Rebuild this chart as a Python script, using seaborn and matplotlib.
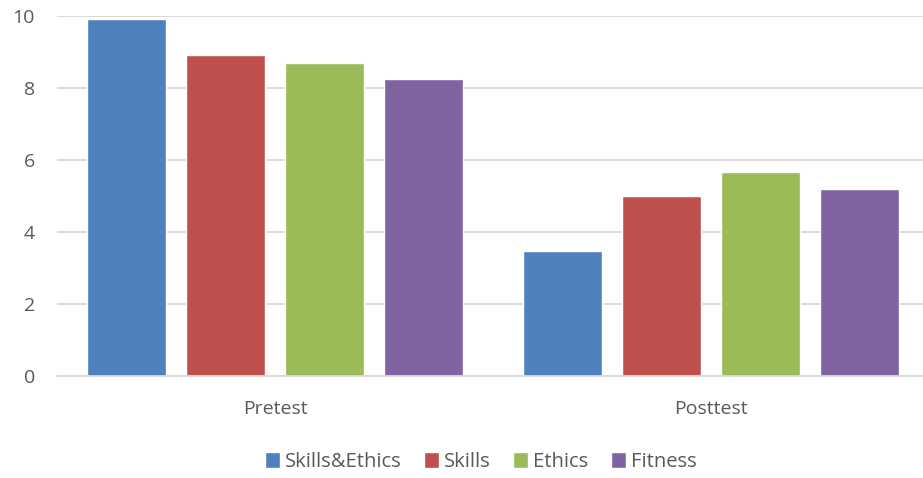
import pandas as pd
import matplotlib
matplotlib.use("Agg")
import matplotlib.pyplot as plt
import seaborn as sns

# --- data ---
tests = ["Pretest", "Posttest"]
groups = ["Skills&Ethics", "Skills", "Ethics", "Fitness"]
skills_ethics = [9.93, 3.46]
skills = [8.91, 5.00]
ethics = [8.69, 5.67]
fitness = [8.24, 5.20]
colors = ["#4F81BD", "#C0504D", "#9BBB59", "#8064A2"]

rows = []
for g, vals in zip(groups, [skills_ethics, skills, ethics, fitness]):
    for t, v in zip(tests, vals):
        rows.append({"test": t, "group": g, "score": v})
df = pd.DataFrame(rows)

sns.set_style("white")
plt.rcParams["font.family"] = ["Open Sans", "DejaVu Sans"]

fig = plt.figure(figsize=(9.23, 4.78), dpi=100)
ax = fig.add_axes([0.062, 0.2134, 0.938, 0.7531])

sns.barplot(data=df, x="test", y="score", hue="group", order=tests,
            hue_order=groups, palette=colors, width=0.908, gap=0.2,
            saturation=1, ax=ax, legend=True)

ax.set_ylim(0, 10)
ax.set_xlim(-0.5, 1.486)
ax.set_yticks(range(0, 11, 2))
ax.yaxis.grid(True, color="#d9d9d9", linewidth=1.3)
ax.set_axisbelow(True)
for s in ["top", "right", "left"]:
    ax.spines[s].set_visible(False)
ax.spines["bottom"].set_color("#d9d9d9")
ax.spines["bottom"].set_linewidth(1.3)
ax.tick_params(axis="both", length=0, labelsize=14, colors="#595959")
ax.tick_params(axis="x", pad=17)
ax.tick_params(axis="y", pad=16)
ax.set_xlabel("")
ax.set_ylabel("")

handles, labels = ax.get_legend_handles_labels()
ax.get_legend().remove()
fig.legend(handles, labels, loc="center", bbox_to_anchor=(0.521, 0.034),
           ncol=4, frameon=False, fontsize=14.5, handlelength=0.75,
           handleheight=0.9, handletextpad=0.25, columnspacing=1.1,
           labelcolor="#595959")

fig.savefig("out.png", dpi=100)
